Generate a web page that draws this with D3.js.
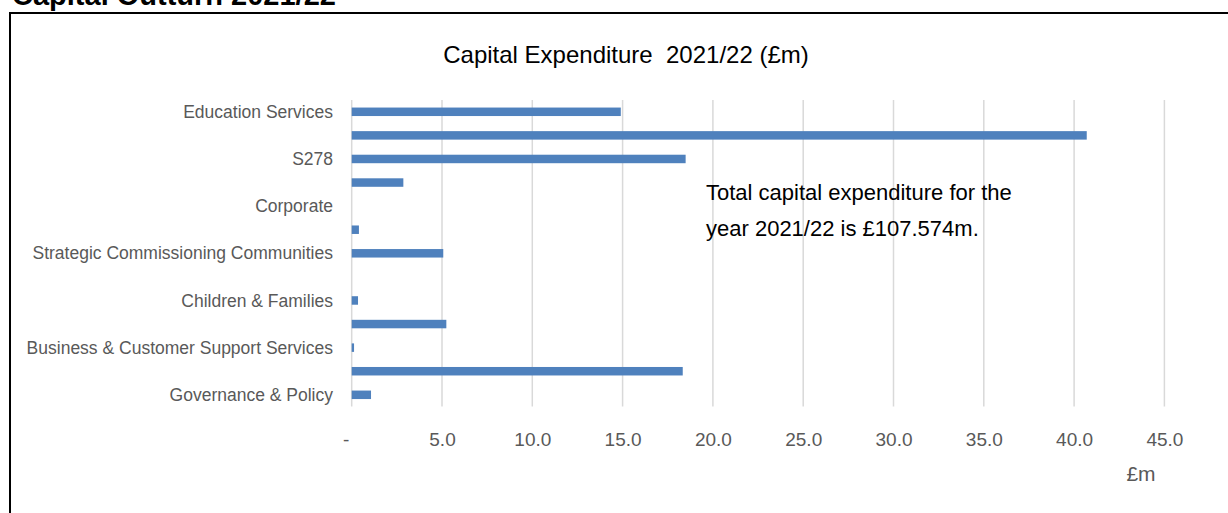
<!DOCTYPE html>
<html>
<head>
<meta charset="utf-8">
<script src="https://cdn.jsdelivr.net/npm/d3@7/dist/d3.min.js"></script>
<style>
html,body{margin:0;padding:0;background:#fff;}
svg{display:block;}
</style>
</head>
<body>
<svg id="chart" width="1228" height="513"></svg>
<script>
// Categories top to bottom; only every other one carries a visible label in the original
const categories = [
  "Education Services", "Unlabelled 1", "S278", "Unlabelled 2", "Corporate",
  "Unlabelled 3", "Strategic Commissioning Communities", "Unlabelled 4",
  "Children & Families", "Unlabelled 5", "Business & Customer Support Services",
  "Unlabelled 6", "Governance & Policy"
];
const shownLabels = [true,false,true,false,true,false,true,false,true,false,true,false,true];
const values = [14.9, 40.7, 18.49, 2.86, 0, 0.4, 5.07, 0, 0.35, 5.24, 0.13, 18.33, 1.07];
const xTicks = [0, 5, 10, 15, 20, 25, 30, 35, 40, 45];
const xTickLabels = ["-", "5.0", "10.0", "15.0", "20.0", "25.0", "30.0", "35.0", "40.0", "45.0"];
const heading = "Capital Outturn 2021/22";
const title = "Capital Expenditure  2021/22 (£m)";
const note = ["Total capital expenditure for the", "year 2021/22 is £107.574m."];
const unitLabel = "£m";

const svg = d3.select("#chart");
const font = "'Liberation Sans Narrow','Arial Narrow','Liberation Sans',Arial,sans-serif";
const fontWide = "'Liberation Sans',Arial,sans-serif";

// page heading (cut off at top, as in the reference)
svg.append("text").attr("x", 12).attr("y", 5)
  .attr("font-family", fontWide).attr("font-weight", "bold").attr("font-size", 29)
  .attr("fill", "#000").text(heading);

// frame
svg.append("rect").attr("x", 10).attr("y", 13).attr("width", 1240).attr("height", 520)
  .attr("fill", "none").attr("stroke", "#000").attr("stroke-width", 2);

const x = d3.scaleLinear().domain([0, 45]).range([351.7, 1164.4]);
const y = d3.scaleBand().domain(categories).range([100, 406.6]).paddingInner(0.64).paddingOuter(0.32);

// gridlines
svg.append("g").selectAll("line").data(xTicks).join("line")
  .attr("x1", d => x(d)).attr("x2", d => x(d))
  .attr("y1", 100).attr("y2", 406.6)
  .attr("stroke", "#d9d9d9").attr("stroke-width", 1.5);

// bars
svg.append("g").selectAll("rect").data(values).join("rect")
  .attr("x", x(0))
  .attr("y", (d, i) => y(categories[i]))
  .attr("width", d => x(d) - x(0))
  .attr("height", y.bandwidth())
  .attr("fill", "#4f81bd");

// y axis labels
const yAxis = d3.axisLeft(y).tickSize(0).tickPadding(0)
  .tickFormat((d, i) => shownLabels[i] ? d : "");
const yg = svg.append("g").attr("transform", `translate(${333},0)`).call(yAxis);
yg.select(".domain").remove();
yg.selectAll("text").attr("font-family", font).attr("font-size", 17.5).attr("fill", "#595959")
  .attr("dy", "0.35em").attr("x", 0);

// x axis labels
const xAxis = d3.axisBottom(x).tickValues(xTicks).tickSize(0).tickPadding(0)
  .tickFormat((d, i) => xTickLabels[i]);
const xg = svg.append("g").attr("transform", `translate(0,${439})`).call(xAxis);
xg.select(".domain").remove();
xg.selectAll("text").attr("font-family", font).attr("font-size", 19).attr("fill", "#595959")
  .attr("dy", "0.35em")
  .attr("dx", (d, i) => d === 0 ? -6 : 0);

// title
svg.append("text").attr("x", 626).attr("y", 63).attr("text-anchor", "middle")
  .style("white-space", "pre")
  .attr("font-family", font).attr("font-size", 24).attr("fill", "#000").text(title);

// annotation
svg.append("text").attr("x", 706).attr("y", 200)
  .attr("font-family", font).attr("font-size", 22).attr("fill", "#000")
  .selectAll("tspan").data(note).join("tspan")
  .attr("x", 706).attr("dy", (d, i) => i === 0 ? 0 : 36).text(d => d);

// unit label
svg.append("text").attr("x", 1141).attr("y", 481).attr("text-anchor", "middle")
  .attr("font-family", font).attr("font-size", 21).attr("fill", "#595959").text(unitLabel);
</script>
</body>
</html>
